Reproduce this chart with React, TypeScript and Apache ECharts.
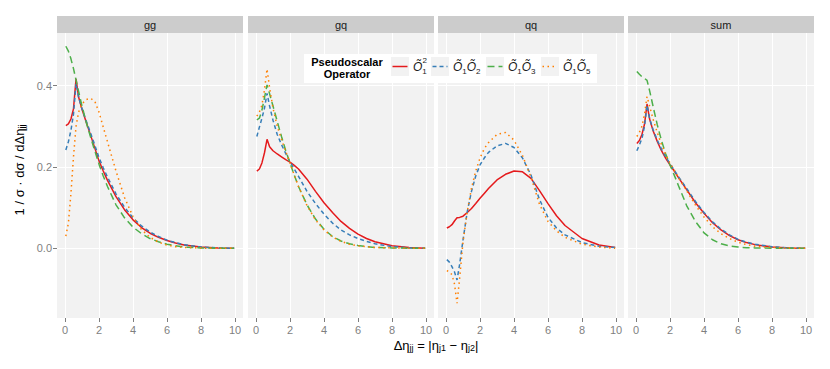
import React, { useEffect, useRef } from "react";
import * as echarts from "echarts";

// ---------- data ----------
const PANEL_NAMES = ["gg", "gq", "qq", "sum"];
const OPERATOR_NAMES = ["O1^2", "O1O2", "O1O3", "O1O5"];
const X_TICKS = [0, 2, 4, 6, 8, 10];
const Y_TICKS = [0, 0.2, 0.4];

const DETA = [0.05, 0.2, 0.35, 0.5, 0.65, 0.8, 1.0, 1.25, 1.5, 1.75, 2.0, 2.25, 2.5, 3.0, 3.5, 4.0, 4.5, 5.0, 5.5, 6.0, 6.5, 7.0, 8.0, 9.0, 9.95];

const GG_O1SQ = [0.302, 0.306, 0.318, 0.343, 0.417, 0.372, 0.342, 0.31, 0.279, 0.247, 0.215, 0.19, 0.167, 0.127, 0.095, 0.07, 0.051, 0.037, 0.027, 0.019, 0.013, 0.008, 0.003, 0.001, 0.0];
const GG_O1O2 = [0.242, 0.262, 0.29, 0.33, 0.405, 0.372, 0.343, 0.313, 0.284, 0.254, 0.223, 0.198, 0.175, 0.134, 0.101, 0.075, 0.055, 0.04, 0.029, 0.02, 0.014, 0.009, 0.003, 0.001, 0.0];
const GG_O1O3 = [0.497, 0.485, 0.466, 0.442, 0.414, 0.386, 0.35, 0.31, 0.274, 0.24, 0.207, 0.178, 0.152, 0.107, 0.075, 0.052, 0.036, 0.024, 0.016, 0.01, 0.006, 0.003, 0.001, 0.0, 0.0];
const GG_O1O5 = [0.03, 0.062, 0.135, 0.225, 0.3, 0.335, 0.355, 0.366, 0.369, 0.362, 0.335, 0.298, 0.262, 0.19, 0.125, 0.078, 0.046, 0.027, 0.015, 0.008, 0.004, 0.002, 0.0005, 0.0, 0.0];

const GQ_O1SQ = [0.19, 0.195, 0.21, 0.235, 0.268, 0.25, 0.24, 0.232, 0.225, 0.218, 0.212, 0.204, 0.195, 0.17, 0.14, 0.112, 0.088, 0.066, 0.049, 0.035, 0.024, 0.016, 0.006, 0.002, 0.0];
const GQ_O1O2 = [0.275, 0.298, 0.32, 0.345, 0.381, 0.35, 0.315, 0.28, 0.255, 0.233, 0.213, 0.195, 0.177, 0.14, 0.11, 0.084, 0.062, 0.045, 0.033, 0.024, 0.017, 0.011, 0.004, 0.001, 0.0];
const GQ_O1O3 = [0.316, 0.32, 0.34, 0.37, 0.402, 0.38, 0.35, 0.312, 0.275, 0.24, 0.21, 0.18, 0.152, 0.107, 0.072, 0.047, 0.029, 0.018, 0.011, 0.007, 0.004, 0.002, 0.001, 0.0, 0.0];
const GQ_O1O5 = [0.325, 0.335, 0.352, 0.39, 0.441, 0.395, 0.345, 0.3, 0.268, 0.238, 0.21, 0.18, 0.152, 0.105, 0.07, 0.045, 0.028, 0.017, 0.01, 0.006, 0.004, 0.002, 0.001, 0.0, 0.0];

const QQ_O1SQ = [0.05, 0.053, 0.058, 0.067, 0.075, 0.076, 0.079, 0.088, 0.098, 0.11, 0.123, 0.135, 0.147, 0.168, 0.182, 0.19, 0.188, 0.172, 0.142, 0.11, 0.08, 0.056, 0.024, 0.008, 0.002];
const QQ_O1O2 = [-0.028, -0.034, -0.045, -0.058, -0.078, -0.04, 0.02, 0.09, 0.14, 0.178, 0.205, 0.222, 0.236, 0.252, 0.258, 0.248, 0.222, 0.18, 0.12, 0.076, 0.05, 0.033, 0.014, 0.005, 0.002];
const QQ_O1O5 = [-0.055, -0.058, -0.065, -0.088, -0.135, -0.075, 0.015, 0.09, 0.148, 0.19, 0.222, 0.245, 0.26, 0.28, 0.285, 0.266, 0.228, 0.175, 0.108, 0.066, 0.043, 0.027, 0.01, 0.003, 0.0];

const SUM_O1SQ = [0.258, 0.265, 0.28, 0.305, 0.355, 0.318, 0.29, 0.263, 0.24, 0.221, 0.205, 0.19, 0.174, 0.143, 0.112, 0.086, 0.063, 0.045, 0.031, 0.021, 0.014, 0.009, 0.003, 0.001, 0.0];
const SUM_O1O2 = [0.24, 0.254, 0.27, 0.3, 0.352, 0.32, 0.292, 0.266, 0.244, 0.225, 0.208, 0.192, 0.176, 0.146, 0.115, 0.088, 0.065, 0.047, 0.033, 0.022, 0.015, 0.01, 0.004, 0.001, 0.0];
const SUM_O1O3 = [0.435, 0.428, 0.422, 0.418, 0.413, 0.388, 0.35, 0.304, 0.265, 0.232, 0.205, 0.18, 0.154, 0.103, 0.066, 0.038, 0.021, 0.011, 0.006, 0.003, 0.0015, 0.001, 0.0, 0.0, 0.0];
const SUM_O1O5 = [0.275, 0.285, 0.3, 0.33, 0.373, 0.35, 0.318, 0.285, 0.255, 0.23, 0.21, 0.192, 0.174, 0.14, 0.106, 0.077, 0.053, 0.036, 0.024, 0.015, 0.009, 0.005, 0.002, 0.0005, 0.0];

// qq has no O1O3 contribution
const PANEL_SERIES: (number[] | null)[][] = [
  [GG_O1SQ, GG_O1O2, GG_O1O3, GG_O1O5],
  [GQ_O1SQ, GQ_O1O2, GQ_O1O3, GQ_O1O5],
  [QQ_O1SQ, QQ_O1O2, null, QQ_O1O5],
  [SUM_O1SQ, SUM_O1O2, SUM_O1O3, SUM_O1O5],
];

// ---------- styles ----------
const FONT = '"Liberation Sans", Arial, Helvetica, sans-serif';
const COLORS = ["#E41A1C", "#377EB8", "#4DAF4A", "#FF7F00"];
const DASHES: any[] = ["solid", [4, 3], [7, 4], [1.5, 3.5]];
const PANEL_LEFT = [57, 248, 438, 628];
const PANEL_W = 186;
const PANEL_TOP = 33;
const PANEL_H = 285;
const STRIP_H = 17;
const X_MIN = -0.47;
const X_MAX = 10.47;
const Y_MIN = -0.1715;
const Y_MAX = 0.5296;
const AXIS_TEXT = "#7f7f7f";
const TEXT = "#1a1a1a";
const PANEL_BG = "#f2f2f2";
const STRIP_BG = "#cccccc";

function buildOption(): any {
  const grid = PANEL_LEFT.map((l) => ({
    left: l,
    top: PANEL_TOP,
    width: PANEL_W,
    height: PANEL_H,
    show: true,
    backgroundColor: PANEL_BG,
    borderWidth: 0,
    containLabel: false,
  }));

  const xAxis = PANEL_LEFT.map((_, i) => ({
    gridIndex: i,
    type: "value",
    position: "bottom",
    min: X_MIN,
    max: X_MAX,
    axisLine: { show: false, onZero: false },
    axisTick: { show: true, length: 4, lineStyle: { color: AXIS_TEXT, width: 1 }, customValues: X_TICKS },
    axisLabel: {
      show: true,
      customValues: X_TICKS,
      color: AXIS_TEXT,
      fontSize: 11,
      fontFamily: FONT,
      margin: 6,
      formatter: (v: number) => String(Math.round(v)),
    },
    splitLine: { show: true, lineStyle: { color: "#ffffff", width: 1.1 } },
  }));

  const yAxis = PANEL_LEFT.map((_, i) => ({
    gridIndex: i,
    type: "value",
    position: "left",
    min: Y_MIN,
    max: Y_MAX,
    axisLine: { show: false, onZero: false },
    axisTick: { show: i === 0, length: 4, lineStyle: { color: AXIS_TEXT, width: 1 }, customValues: Y_TICKS },
    axisLabel: {
      show: i === 0,
      customValues: Y_TICKS,
      color: AXIS_TEXT,
      fontSize: 11,
      fontFamily: FONT,
      margin: 5,
      formatter: (v: number) => v.toFixed(1),
    },
    splitLine: { show: true, lineStyle: { color: "#ffffff", width: 1.1 } },
  }));

  const series: any[] = [];
  PANEL_SERIES.forEach((ops, p) => {
    ops.forEach((vals, k) => {
      if (!vals) return;
      series.push({
        type: "line",
        name: OPERATOR_NAMES[k],
        xAxisIndex: p,
        yAxisIndex: p,
        data: DETA.map((x, i) => [x, vals[i]]),
        symbol: "none",
        showSymbol: false,
        smooth: false,
        lineStyle: { color: COLORS[k], width: 1.5, type: DASHES[k], cap: "butt" },
        z: 2 + k,
        silent: true,
      });
    });
  });

  const graphic: any[] = [];
  // facet strips
  PANEL_NAMES.forEach((name, i) => {
    graphic.push({
      type: "rect",
      shape: { x: PANEL_LEFT[i], y: PANEL_TOP - STRIP_H, width: PANEL_W, height: STRIP_H },
      style: { fill: STRIP_BG },
      silent: true,
    });
    graphic.push({
      type: "text",
      x: PANEL_LEFT[i] + PANEL_W / 2,
      y: PANEL_TOP - STRIP_H / 2,
      style: { text: name, fill: TEXT, font: `normal 400 11px ${FONT}`, textAlign: "center", textVerticalAlign: "middle" },
      silent: true,
    });
  });

  // legend
  const lgX = 304, lgY = 54, lgW = 293, lgH = 29;
  graphic.push({ type: "rect", shape: { x: lgX, y: lgY, width: lgW, height: lgH }, style: { fill: "#ffffff" }, z: 20, silent: true });
  graphic.push({
    type: "text", x: 347, y: 62, z: 21, silent: true,
    style: { text: "Pseudoscalar", fill: "#000", font: `bold 11px ${FONT}`, textAlign: "center", textVerticalAlign: "middle" },
  });
  graphic.push({
    type: "text", x: 347, y: 74, z: 21, silent: true,
    style: { text: "Operator", fill: "#000", font: `bold 11px ${FONT}`, textAlign: "center", textVerticalAlign: "middle" },
  });
  const keyX = [391, 431, 486, 541];
  const labX = [413, 453, 508, 563];
  const rich = {
    o: { fontSize: 12, fontStyle: "italic", fontFamily: FONT, fill: TEXT, color: TEXT, lineHeight: 16, verticalAlign: "middle" },
    s: { fontSize: 8, fontFamily: FONT, fill: TEXT, color: TEXT, lineHeight: 9, verticalAlign: "bottom" },
  };
  const labTexts = ["{o|Õ}{s|1}", "{o|Õ}{s|1}{o|Õ}{s|2}", "{o|Õ}{s|1}{o|Õ}{s|3}", "{o|Õ}{s|1}{o|Õ}{s|5}"];
  keyX.forEach((kx, k) => {
    graphic.push({ type: "rect", shape: { x: kx, y: 57, width: 18, height: 19 }, style: { fill: PANEL_BG }, z: 21, silent: true });
    graphic.push({
      type: "line", z: 22, silent: true,
      shape: { x1: kx + 1.5, y1: 66.5, x2: kx + 16.5, y2: 66.5 },
      style: { stroke: COLORS[k], lineWidth: 1.5, lineDash: DASHES[k] === "solid" ? null : DASHES[k] },
    });
    graphic.push({
      type: "text", x: labX[k], y: 67, z: 22, silent: true,
      style: { text: labTexts[k], rich, textAlign: "left", textVerticalAlign: "middle", fill: TEXT, font: `12px ${FONT}` },
    });
  });
  graphic.push({
    type: "text", x: 422.5, y: 60.5, z: 22, silent: true,
    style: { text: "2", fill: TEXT, font: `8px ${FONT}`, textAlign: "left", textVerticalAlign: "middle" },
  });

  // axis titles
  const titleRich = {
    m: { fontSize: 13, fontFamily: FONT, fill: "#000", color: "#000", lineHeight: 14, verticalAlign: "middle" },
    s: { fontSize: 9, fontFamily: FONT, fill: "#000", color: "#000", lineHeight: 9, verticalAlign: "bottom" },
  };
  graphic.push({
    type: "text", x: 436, y: 345, silent: true,
    style: {
      text: "{m|Δη}{s|jj}{m| = |η}{s|j1}{m| − η}{s|j2}{m||}",
      rich: titleRich, textAlign: "center", textVerticalAlign: "middle", fill: "#000", font: `13px ${FONT}`,
    },
  });
  graphic.push({
    type: "text", x: 19, y: 170, rotation: Math.PI / 2, silent: true,
    style: {
      text: "{m|1 / σ · dσ / dΔη}{s|jj}",
      rich: titleRich, textAlign: "center", textVerticalAlign: "middle", fill: "#000", font: `13px ${FONT}`,
    },
  });

  return {
    animation: false,
    backgroundColor: "#ffffff",
    grid,
    xAxis,
    yAxis,
    series,
    graphic,
  };
}

export default function App() {
  const ref = useRef<HTMLDivElement>(null);
  useEffect(() => {
    if (!ref.current) return;
    const chart = echarts.init(ref.current, null, { renderer: "svg" });
    chart.setOption(buildOption());
    return () => chart.dispose();
  }, []);
  return (
    <div
      ref={ref}
      style={{ position: "fixed", left: 0, top: 0, width: 830, height: 369, background: "#ffffff" }}
    />
  );
}
